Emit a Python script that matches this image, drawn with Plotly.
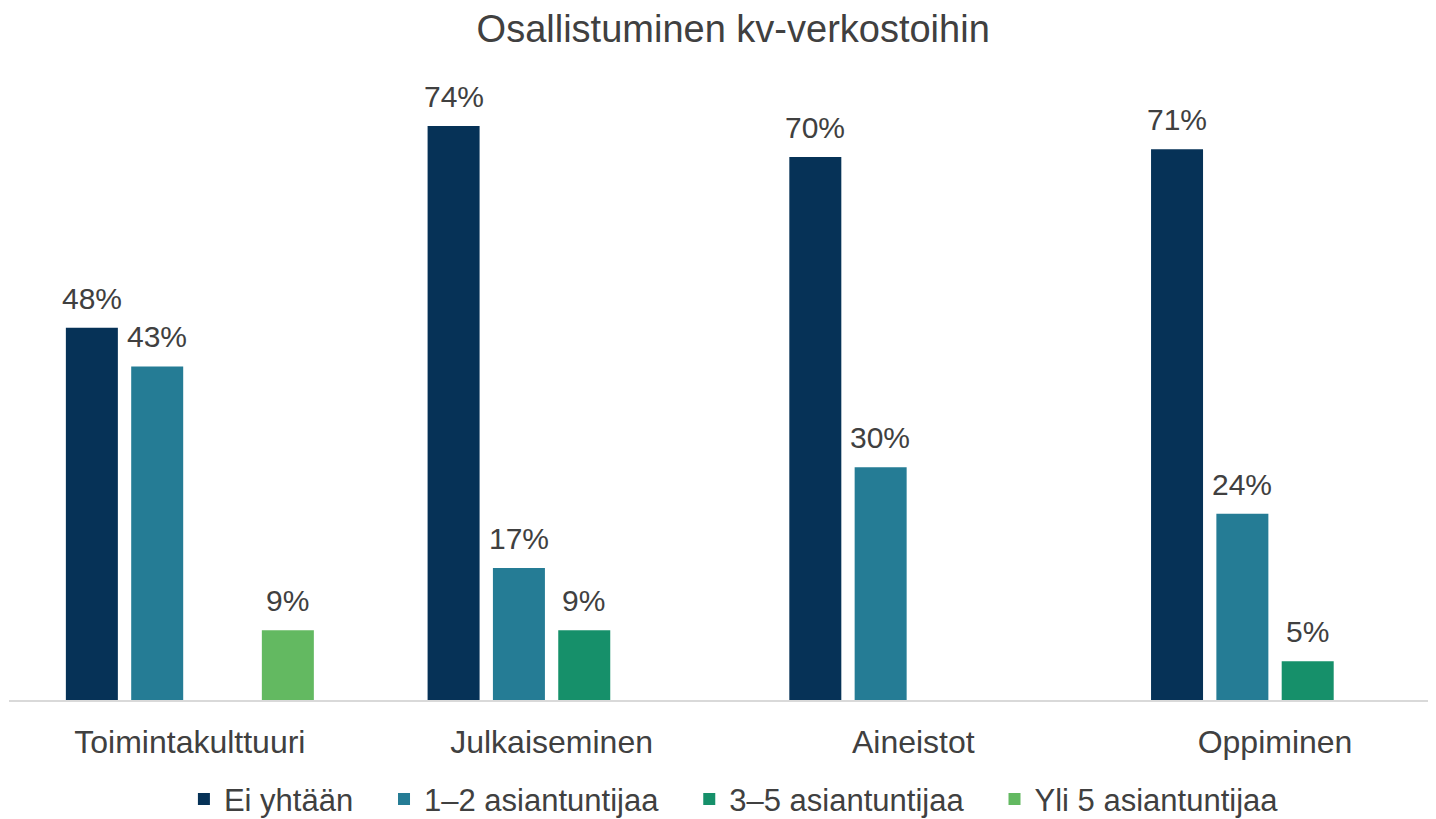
import plotly.graph_objects as go

categories = ["Toimintakulttuuri", "Julkaiseminen", "Aineistot", "Oppiminen"]
series_names = ["Ei yhtään", "1–2 asiantuntijaa", "3–5 asiantuntijaa", "Yli 5 asiantuntijaa"]
ei_yhtaan = [48, 74, 70, 71]
yksi_kaksi = [43, 17, 30, 24]
kolme_viisi = [None, 9, None, 5]
yli_viisi = [9, None, None, None]
colors = ["#063257", "#257C95", "#16906A", "#63B961"]

series_values = [ei_yhtaan, yksi_kaksi, kolme_viisi, yli_viisi]
label_xshift = [-98, -33, 32, 98]
legend_pad = "\u00a0\u00a0\u00a0"

fig = go.Figure()
for i, (name, vals, col) in enumerate(zip(series_names, series_values, colors)):
    fig.add_trace(go.Bar(
        x=categories, y=vals,
        name=name + (legend_pad if i < len(series_names) - 1 else ""),
        marker_color=col, marker_line_width=0,
    ))
    for cat, v in zip(categories, vals):
        if v is None:
            continue
        fig.add_annotation(x=cat, y=v, text=f"{v}%", showarrow=False,
                           xshift=label_xshift[i], yshift=11, yanchor="bottom",
                           font=dict(size=30, color="#404040", family="Liberation Sans, Arial"))

fig.update_layout(
    width=1436, height=819,
    paper_bgcolor="white", plot_bgcolor="white",
    margin=dict(l=1, r=8, t=52, b=124),
    barmode="group", bargap=0.2776, bargroupgap=0.204,
    font=dict(family="Liberation Sans, Arial", color="#404040"),
    title=dict(text="Osallistuminen kv-verkostoihin", x=0.505, xanchor="center",
               y=0.975, yanchor="middle",
               font=dict(size=38, color="#404040")),
    legend=dict(orientation="h", x=0.508, xanchor="center", y=-0.113, yanchor="top",
                font=dict(size=31, color="#404040"), itemwidth=30,
                traceorder="normal"),
    showlegend=True,
)
fig.update_xaxes(range=[-0.5, 3.445], showline=True, linecolor="#D9D9D9", linewidth=2,
                 tickfont=dict(size=32, color="#404040"), ticks="", ticklabelstandoff=13,
                 showgrid=False)
fig.update_yaxes(range=[0, 82.5], visible=False, showgrid=False)

fig.write_html("out.html")
